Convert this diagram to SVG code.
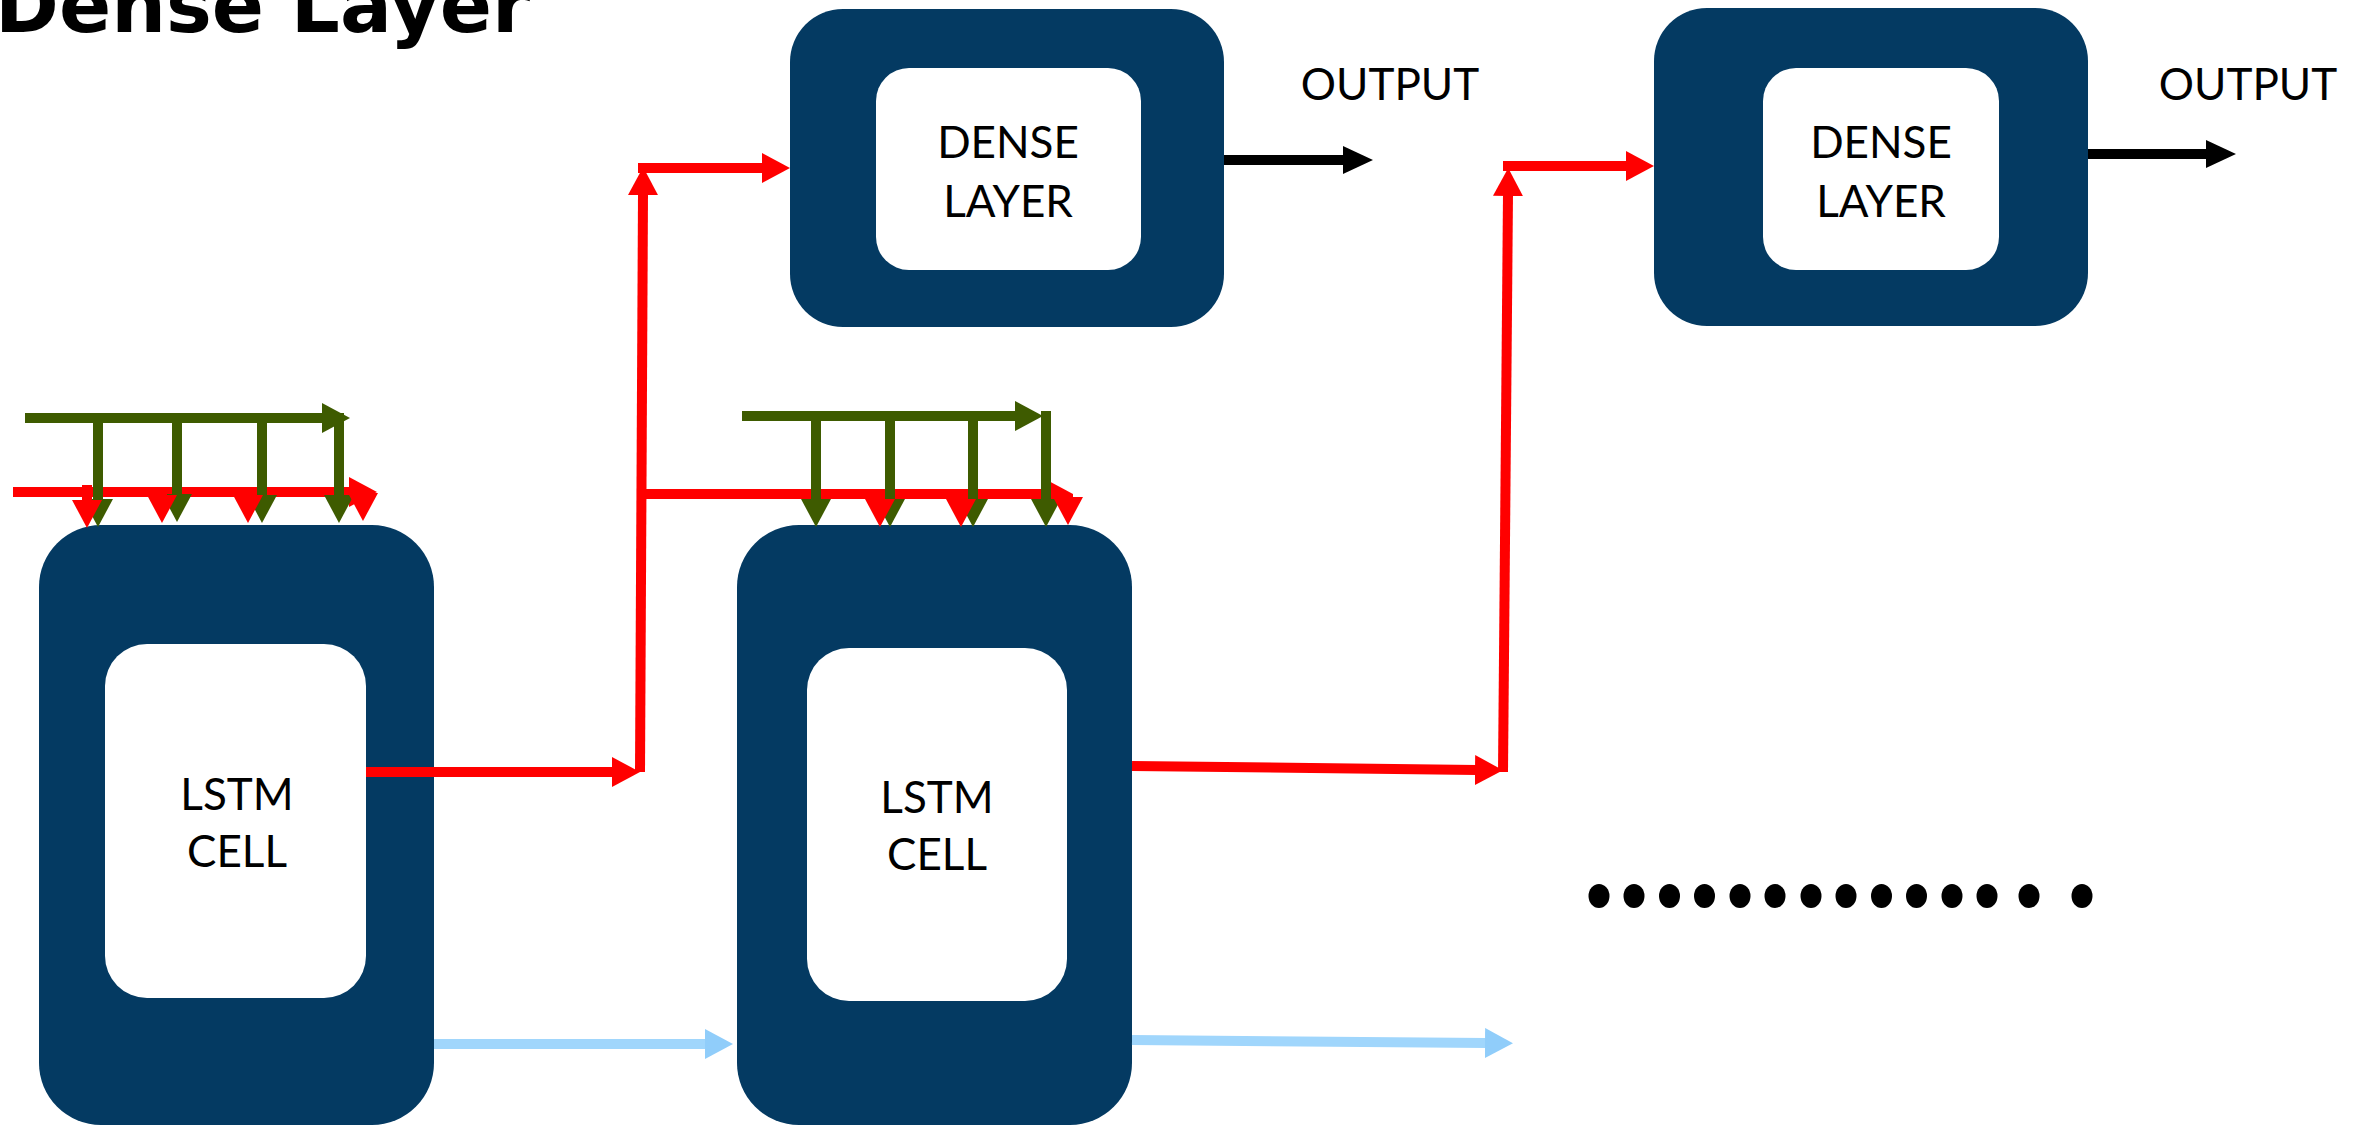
<svg xmlns="http://www.w3.org/2000/svg" width="2364" height="1127" viewBox="0 0 2364 1127">
<style>
.outer{fill:#043a62}
.inner{fill:#ffffff}
.lbl{font-family:Lato,"Open Sans","DejaVu Sans",sans-serif;font-size:44px;fill:#000;text-anchor:middle}
.title{font-family:"DejaVu Sans",Verdana,sans-serif;font-weight:bold;font-size:77px;fill:#000}
.r{stroke:#ff0000;stroke-width:10;fill:none;marker-end:url(#mr)}
.g{stroke:#3e5b00;stroke-width:10;fill:none;marker-end:url(#mg)}
.k{stroke:#000;stroke-width:10;fill:none;marker-end:url(#mk)}
.b{stroke:#a0d6fc;stroke-width:10;fill:none;marker-end:url(#mb)}
.dot{fill:#000}
</style>
<defs>
<marker id="mr" markerUnits="userSpaceOnUse" markerWidth="30" markerHeight="30" refX="2" refY="15" orient="auto"><path d="M0,0 L28,15 L0,30 Z" fill="#ff0000"/></marker>
<marker id="mg" markerUnits="userSpaceOnUse" markerWidth="30" markerHeight="30" refX="2" refY="15" orient="auto"><path d="M0,0 L28,15 L0,30 Z" fill="#3e5b00"/></marker>
<marker id="mk" markerUnits="userSpaceOnUse" markerWidth="32" markerHeight="28" refX="2" refY="14" orient="auto"><path d="M0,0 L30,14 L0,28 Z" fill="#000"/></marker>
<marker id="mb" markerUnits="userSpaceOnUse" markerWidth="30" markerHeight="30" refX="2" refY="15" orient="auto"><path d="M0,0 L28,15 L0,30 Z" fill="#90cdfa"/></marker>
</defs>
<rect width="2364" height="1127" fill="#ffffff"/>
<text class="title" x="-5" y="32">Dense Layer</text>

<g id="lstm1">
<rect class="outer" x="39" y="525" width="395" height="600" rx="62"/>
<rect class="inner" x="105" y="644" width="261" height="354" rx="42"/>
<text class="lbl" x="237" y="810">LSTM</text>
<text class="lbl" x="237" y="867">CELL</text>
</g>
<g id="lstm2">
<rect class="outer" x="737" y="525" width="395" height="600" rx="62"/>
<rect class="inner" x="807" y="648" width="260" height="353" rx="42"/>
<text class="lbl" x="937" y="813">LSTM</text>
<text class="lbl" x="937" y="870">CELL</text>
</g>
<g id="dense1">
<rect class="outer" x="790" y="9" width="434" height="318" rx="53"/>
<rect class="inner" x="876" y="68" width="265" height="202" rx="33"/>
<text class="lbl" x="1008" y="158">DENSE</text>
<text class="lbl" x="1008" y="217">LAYER</text>
</g>
<g id="dense2">
<rect class="outer" x="1654" y="8" width="434" height="318" rx="53"/>
<rect class="inner" x="1763" y="68" width="236" height="202" rx="33"/>
<text class="lbl" x="1881" y="158">DENSE</text>
<text class="lbl" x="1881" y="217">LAYER</text>
</g>
<g id="output1"><text class="lbl" x="1390" y="100">OUTPUT</text></g>
<g id="output2"><text class="lbl" x="2248" y="100">OUTPUT</text></g>

<g id="connectors">
<!-- cell 1 inputs -->
<line class="r" x1="13" y1="492" x2="351" y2="492"/>
<line class="g" x1="25" y1="418" x2="324" y2="418"/>
<line class="g" x1="98" y1="418" x2="98" y2="501"/>
<line class="g" x1="177" y1="418" x2="177" y2="496"/>
<line class="g" x1="262" y1="418" x2="262" y2="497"/>
<line class="g" x1="339" y1="413" x2="339" y2="497"/>
<line class="r" x1="87" y1="485" x2="87" y2="502"/>
<line class="r" x1="162" y1="492" x2="162" y2="497"/>
<line class="r" x1="248" y1="492" x2="248" y2="497"/>
<line class="r" x1="363" y1="492" x2="363" y2="495"/>
<!-- cell 2 inputs -->
<line class="r" x1="643" y1="494" x2="1047" y2="494"/>
<line class="g" x1="742" y1="416" x2="1017" y2="416"/>
<line class="g" x1="816" y1="416" x2="816" y2="501"/>
<line class="g" x1="890" y1="416" x2="890" y2="501"/>
<line class="g" x1="973" y1="416" x2="973" y2="501"/>
<line class="g" x1="1046" y1="411" x2="1046" y2="501"/>
<line class="r" x1="880" y1="494" x2="880" y2="501"/>
<line class="r" x1="961" y1="494" x2="961" y2="501"/>
<line class="r" x1="1068" y1="494" x2="1068" y2="499"/>
<!-- hidden-state paths -->
<line class="r" x1="366" y1="772" x2="614" y2="772"/>
<line class="r" x1="640" y1="772" x2="643" y2="193"/>
<line class="r" x1="638" y1="168" x2="764" y2="168"/>
<line class="r" x1="1132" y1="766" x2="1477" y2="770"/>
<line class="r" x1="1503" y1="772" x2="1508" y2="194"/>
<line class="r" x1="1503" y1="166" x2="1628" y2="166"/>
<!-- outputs -->
<line class="k" x1="1224" y1="160" x2="1345" y2="160"/>
<line class="k" x1="2088" y1="154" x2="2208" y2="154"/>
<!-- cell state -->
<line class="b" x1="434" y1="1044" x2="707" y2="1044"/>
<line class="b" x1="1132" y1="1040" x2="1487" y2="1043"/>
</g>

<g id="ellipsis">
<ellipse class="dot" cx="1599" cy="896" rx="10.5" ry="12"/>
<ellipse class="dot" cx="1634" cy="896" rx="10.5" ry="12"/>
<ellipse class="dot" cx="1669.5" cy="896" rx="10.5" ry="12"/>
<ellipse class="dot" cx="1704.5" cy="896" rx="10.5" ry="12"/>
<ellipse class="dot" cx="1740" cy="896" rx="10.5" ry="12"/>
<ellipse class="dot" cx="1775" cy="896" rx="10.5" ry="12"/>
<ellipse class="dot" cx="1811" cy="896" rx="10.5" ry="12"/>
<ellipse class="dot" cx="1846" cy="896" rx="10.5" ry="12"/>
<ellipse class="dot" cx="1881.5" cy="896" rx="10.5" ry="12"/>
<ellipse class="dot" cx="1916.5" cy="896" rx="10.5" ry="12"/>
<ellipse class="dot" cx="1952" cy="896" rx="10.5" ry="12"/>
<ellipse class="dot" cx="1987" cy="896" rx="10.5" ry="12"/>
<ellipse class="dot" cx="2029" cy="896" rx="10.5" ry="12"/>
<ellipse class="dot" cx="2082" cy="896" rx="10.5" ry="12"/>
</g>
</svg>
